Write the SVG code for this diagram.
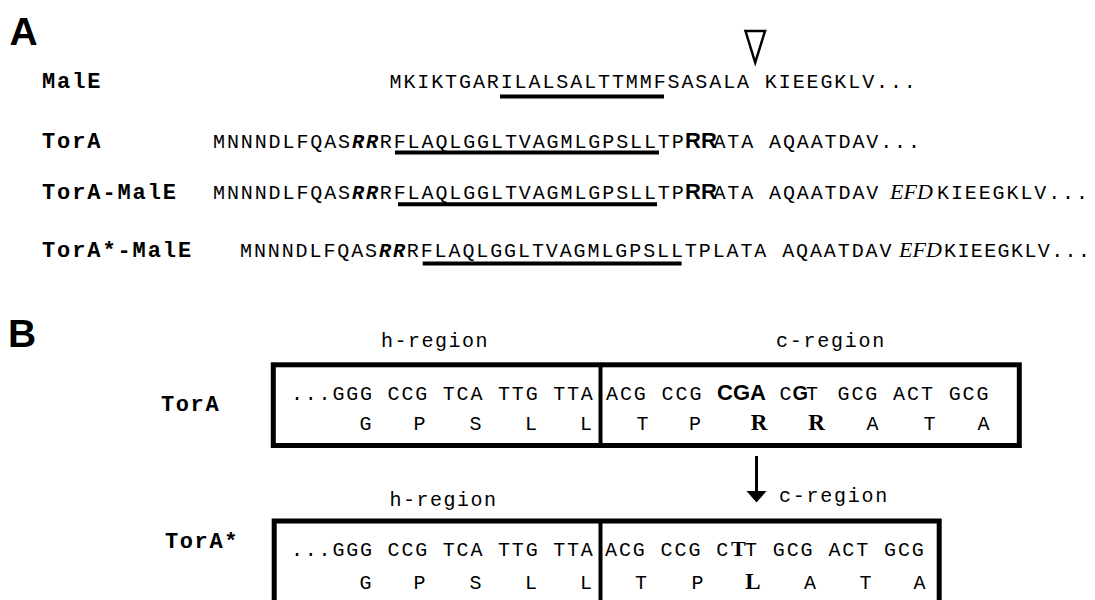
<svg xmlns="http://www.w3.org/2000/svg" width="1095" height="600" viewBox="0 0 1095 600">
<style>
.mono{font-family:"Liberation Mono",monospace;font-size:20px;letter-spacing:1.9px;fill:#000}
.monoL{font-family:"Liberation Mono",monospace;font-size:20px;letter-spacing:1.8px;fill:#000}
.lbl{font-family:"Liberation Mono",monospace;font-weight:bold;font-size:22px;letter-spacing:1.9px;fill:#000}
.bi{font-weight:bold;font-style:italic}
.rb{font-family:"Liberation Sans",sans-serif;font-weight:bold;font-size:22px;letter-spacing:0}
.it{font-family:"Liberation Serif",serif;font-style:italic;font-size:22px;letter-spacing:0}
.amino{font-family:"Liberation Mono",monospace;font-size:20px;text-anchor:middle;fill:#000}
.aminoB{font-family:"Liberation Serif",serif;font-weight:bold;font-size:23px;text-anchor:middle;fill:#000}
.sbT{font-family:"Liberation Serif",serif;font-weight:bold;font-size:22px;letter-spacing:0}
.head{font-family:"Liberation Sans",sans-serif;font-weight:bold;font-size:39px;fill:#000}
.ul{stroke:#000;stroke-width:4}
.box{fill:none;stroke:#000;stroke-width:5}
.div{stroke:#000;stroke-width:4}
</style>
<rect width="1095" height="600" fill="#fff"/>

<g id="panelA">
  <text class="head" x="9.5" y="44.9">A</text>
  <g id="row-MalE">
    <text class="lbl" x="42" y="88">MalE</text>
    <text class="mono" x="389.5" y="88">MKIKTGARILALSALTTMMFSASALA KIEEGKLV...</text>
    <line class="ul" x1="500" y1="96.4" x2="664" y2="96.4"/>
    <polygon points="745.5,31 765,31 755.2,62.5" fill="#fff" stroke="#000" stroke-width="2.5"/>
  </g>
  <g id="row-TorA">
    <text class="lbl" x="42" y="148">TorA</text>
    <text class="mono" y="148"><tspan x="213">MNNNDLFQAS</tspan><tspan class="bi" x="352">RR</tspan><tspan x="379.8">RFLAQLGGLTVAGMLGPSLLTP</tspan><tspan class="rb" x="685">RR</tspan><tspan x="713.4">ATA AQAATDAV...</tspan></text>
    <line class="ul" x1="395" y1="152.5" x2="659" y2="152.5"/>
  </g>
  <g id="row-TorA-MalE">
    <text class="lbl" x="42" y="199">TorA-MalE</text>
    <text class="mono" y="199"><tspan x="213">MNNNDLFQAS</tspan><tspan class="bi" x="352">RR</tspan><tspan x="379.8">RFLAQLGGLTVAGMLGPSLLTP</tspan><tspan class="rb" x="685">RR</tspan><tspan x="713.4">ATA AQAATDAV</tspan><tspan class="it" x="890">EFD</tspan><tspan x="937">KIEEGKLV...</tspan></text>
    <line class="ul" x1="398" y1="204.2" x2="657" y2="204.2"/>
  </g>
  <g id="row-TorAstar-MalE">
    <text class="lbl" x="42" y="256.5">TorA*-MalE</text>
    <text class="mono" y="256.5"><tspan x="240">MNNNDLFQAS</tspan><tspan class="bi" x="379">RR</tspan><tspan x="406.8">RFLAQLGGLTVAGMLGPSLLTPLATA AQAATDAV</tspan><tspan class="it" x="899">EFD</tspan><tspan x="944" style="letter-spacing:1.4px">KIEEGKLV...</tspan></text>
    <line class="ul" x1="422.7" y1="263.5" x2="681.6" y2="263.5"/>
  </g>
</g>

<g id="panelB">
  <text class="head" x="8" y="347">B</text>
  <g id="box-TorA">
    <text class="mono" x="381" y="346.7" style="letter-spacing:1.5px">h-region</text>
    <text class="mono" x="776" y="346.7" style="letter-spacing:1.75px">c-region</text>
    <text class="lbl" x="161" y="411" style="letter-spacing:1.6px">TorA</text>
    <rect class="box" x="273.3" y="364.8" width="746" height="80.7"/>
    <line class="div" x1="600.5" y1="365" x2="600.5" y2="445"/>
    <text class="monoL" x="291" y="400">...GGG CCG TCA TTG TTA</text>
    <text class="amino" x="365.5" y="430">G</text>
    <text class="amino" x="419.5" y="430">P</text>
    <text class="amino" x="475.5" y="430">S</text>
    <text class="amino" x="531" y="430">L</text>
    <text class="amino" x="586" y="430">L</text>
    <text class="mono" y="400"><tspan x="606">ACG CCG</tspan><tspan class="rb" x="717">CGA</tspan><tspan x="779.5">C</tspan><tspan class="rb" x="792.5" style="font-size:20px">G</tspan><tspan x="806">T</tspan><tspan x="837.5">GCG ACT GCG</tspan></text>
    <text class="amino" x="642.5" y="430">T</text>
    <text class="amino" x="695" y="430">P</text>
    <text class="aminoB" x="759" y="430">R</text>
    <text class="aminoB" x="816.5" y="430">R</text>
    <text class="amino" x="872.5" y="430">A</text>
    <text class="amino" x="929.5" y="430">T</text>
    <text class="amino" x="983.5" y="430">A</text>
  </g>
  <g id="box-TorAstar">
    <text class="mono" x="389.5" y="506" style="letter-spacing:1.5px">h-region</text>
    <text class="mono" x="779" y="501.7" style="letter-spacing:1.75px">c-region</text>
    <text class="lbl" x="165" y="548" style="letter-spacing:1.6px">TorA*</text>
    <rect class="box" x="274.2" y="521" width="665" height="100"/>
    <line class="div" x1="600.5" y1="521" x2="600.5" y2="605"/>
    <text class="monoL" x="291" y="556">...GGG CCG TCA TTG TTA</text>
    <text class="amino" x="365.5" y="589">G</text>
    <text class="amino" x="419.5" y="589">P</text>
    <text class="amino" x="475.5" y="589">S</text>
    <text class="amino" x="531" y="589">L</text>
    <text class="amino" x="586" y="589">L</text>
    <text class="mono" y="556"><tspan x="605">ACG CCG C</tspan><tspan class="sbT" x="731">T</tspan><tspan x="745">T GCG ACT GCG</tspan></text>
    <text class="amino" x="641" y="589">T</text>
    <text class="amino" x="697.5" y="589">P</text>
    <text class="aminoB" x="753" y="589">L</text>
    <text class="amino" x="810" y="589">A</text>
    <text class="amino" x="865.5" y="589">T</text>
    <text class="amino" x="919.5" y="589">A</text>
  </g>
</g>

<g id="connectors">
  <line x1="756.5" y1="456" x2="756.5" y2="493" stroke="#000" stroke-width="3"/>
  <polygon points="746.5,491 766.5,491 756.5,502.5" fill="#000"/>
</g>
</svg>
